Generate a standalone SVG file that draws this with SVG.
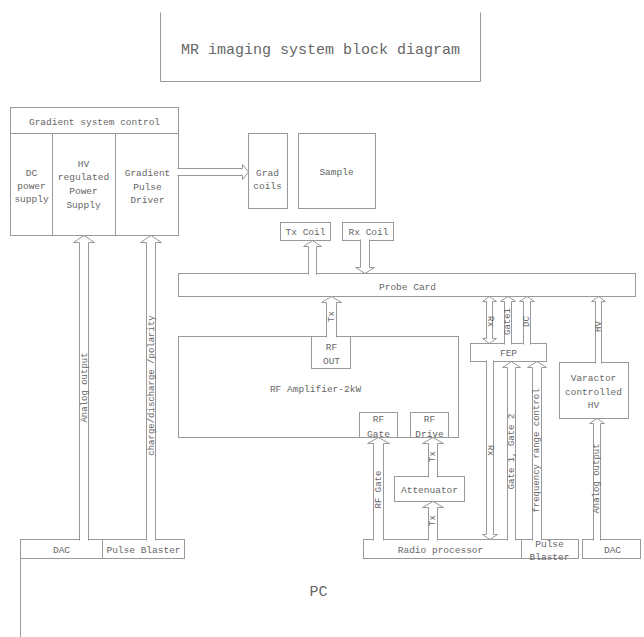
<svg xmlns="http://www.w3.org/2000/svg" width="644" height="637" viewBox="0 0 644 637">
<style>
.b{fill:#fff;stroke:#999;stroke-width:1}
.l{fill:none;stroke:#999;stroke-width:1}
.a{fill:#fff;stroke:#999;stroke-width:1}
text{font-family:"Liberation Mono","DejaVu Sans Mono",monospace;font-size:9.5px;fill:#666;text-anchor:middle}
.r{font-size:9px;dominant-baseline:central}
</style>
<rect width="644" height="637" fill="#fff"/>
<g transform="translate(0.5,0.5)">
<g id="title">
<path class="l" d="M160 12 V81 H480 V12"/>
<text x="320" y="53" style="font-size:15px">MR imaging system block diagram</text>
</g>
<g id="gradient-system-control">
<rect class="b" x="10" y="107" width="168" height="128"/>
<path class="l" d="M10 133 H178 M52 133 V235 M115 133 V235"/>
<text x="94" y="124">Gradient system control</text>
</g>
<g id="dc-power-supply">
<text x="31" y="175">DC</text><text x="31" y="188">power</text><text x="31" y="201">supply</text>
</g>
<g id="hv-regulated-power-supply">
<text x="83" y="166">HV</text><text x="83" y="179">regulated</text><text x="83" y="193">Power</text><text x="83" y="207">Supply</text>
</g>
<g id="gradient-pulse-driver">
<text x="147" y="175">Gradient</text><text x="147" y="189">Pulse</text><text x="147" y="202">Driver</text>
</g>
<g id="grad-coils">
<rect class="b" x="248" y="133" width="39" height="75"/>
<text x="267" y="175">Grad</text><text x="267" y="188">coils</text>
</g>
<g id="sample">
<rect class="b" x="298" y="133" width="77" height="75"/>
<text x="336" y="174">Sample</text>
</g>
<g id="tx-coil">
<rect class="b" x="280" y="222" width="50" height="18"/>
<text x="305" y="234">Tx Coil</text>
</g>
<g id="rx-coil">
<rect class="b" x="342" y="222" width="51" height="18"/>
<text x="368" y="234">Rx Coil</text>
</g>
<g id="probe-card">
<rect class="b" x="178" y="273" width="457" height="23"/>
<text x="407" y="289">Probe Card</text>
</g>
<g id="rf-amplifier">
<rect class="b" x="178" y="336" width="280" height="101"/>
<text x="315" y="391">RF Amplifier-2kW</text>
</g>
<g id="rf-out">
<rect class="b" x="311" y="336" width="39" height="32"/>
<text x="331" y="349">RF</text><text x="331" y="363">OUT</text>
</g>
<g id="rf-gate">
<rect class="b" x="359" y="412" width="38" height="25"/>
<text x="378" y="421">RF</text><text x="378" y="436">Gate</text>
</g>
<g id="rf-drive">
<rect class="b" x="410" y="412" width="38" height="25"/>
<text x="429" y="421">RF</text><text x="429" y="436">Drive</text>
</g>
<g id="attenuator">
<rect class="b" x="394" y="476" width="70" height="25"/>
<text x="429" y="492">Attenuator</text>
</g>
<g id="fep">
<rect class="b" x="470" y="343" width="76" height="18"/>
<text x="508" y="355">FEP</text>
</g>
<g id="varactor-hv">
<rect class="b" x="559" y="362" width="69" height="56"/>
<text x="593" y="380">Varactor</text><text x="593" y="394">controlled</text><text x="593" y="407">HV</text>
</g>
<g id="dac-left">
<rect class="b" x="20" y="539" width="82" height="19"/>
<text x="61" y="552">DAC</text>
</g>
<g id="pulse-blaster-left">
<rect class="b" x="102" y="539" width="82" height="19"/>
<text x="143" y="552">Pulse Blaster</text>
</g>
<g id="radio-processor">
<rect class="b" x="363" y="539" width="158" height="19"/>
<text x="440" y="552">Radio processor</text>
</g>
<g id="pulse-blaster-right">
<rect class="b" x="521" y="539" width="57" height="19"/>
<text x="549" y="546">Pulse</text><text x="549" y="559">Blaster</text>
</g>
<g id="dac-right">
<rect class="b" x="582" y="539" width="58" height="19"/>
<text x="612" y="552">DAC</text>
</g>
<g id="pc">
<path class="l" d="M20 558 V637"/>
<text x="318" y="595" style="font-size:15px">PC</text>
</g>
<g id="connectors">
<path class="a" d="M79 540 V242 H73 L83.5 235 L94 242 H88 V540"/>
<path class="a" d="M146 540 V242 H140 L150.5 235 L161 242 H155 V540"/>
<path class="a" d="M177 168 H242 V164 L248 171.5 L242 179 V175 H177"/>
<path class="a" d="M308 274 V246 H303 L312 240 L321 246 H316 V274"/>
<path class="a" d="M360 239 V267 H355 L364.5 273 L374 267 H369 V239"/>
<path class="a" d="M326 337 V302 H321 L331 296 L341 302 H336 V337"/>
<path class="a" d="M373 540 V443 H367 L378 437 L389 443 H383 V540"/>
<path class="a" d="M428 477 V443 H422 L432.5 437 L443 443 H437 V477"/>
<path class="a" d="M428 540 V507 H422 L432.5 501 L443 507 H437 V540"/>
<path class="a" d="M489 296 L496 301 H492 V338 H496 L489 343 L482 338 H486 V301 H482 Z"/>
<path class="a" d="M504 344 V301 H500 L507.5 296 L515 301 H511 V344"/>
<path class="a" d="M523 344 V301 H519 L526.5 296 L534 301 H530 V344"/>
<path class="a" d="M486 360 V534 H482 L489.5 539 L497 534 H493 V360"/>
<path class="a" d="M507 540 V367 H502 L511 361 L520 367 H515 V540"/>
<path class="a" d="M532 540 V367 H527 L536.5 361 L546 367 H541 V540"/>
<path class="a" d="M595 363 V301 H591 L598 296 L605 301 H601 V363"/>
<path class="a" d="M593 540 V423 H589 L596.5 418 L604 423 H600 V540"/>
<text class="r" transform="translate(84,387) rotate(-90)">Analog output</text>
<text class="r" transform="translate(151,385) rotate(-90)">charge/discharge /polarity</text>
<text class="r" transform="translate(331,316) rotate(-90)">Tx</text>
<text class="r" transform="translate(378,489) rotate(-90)">RF Gate</text>
<text class="r" transform="translate(432.5,456) rotate(-90)">Tx</text>
<text class="r" transform="translate(432.5,520) rotate(-90)">Tx</text>
<text class="r" transform="translate(489,321) rotate(90)">Rx</text>
<text class="r" transform="translate(507.5,321) rotate(-90)">Gate1</text>
<text class="r" transform="translate(526.5,321) rotate(-90)">DC</text>
<text class="r" transform="translate(489.5,450) rotate(90)">Rx</text>
<text class="r" transform="translate(511,451) rotate(-90)">Gate 1, Gate 2</text>
<text class="r" transform="translate(536.5,450) rotate(-90)">frequency range control</text>
<text class="r" transform="translate(598,326) rotate(-90)">HV</text>
<text class="r" transform="translate(596.5,478) rotate(-90)">Analog output</text>
</g>
</g>
</svg>
